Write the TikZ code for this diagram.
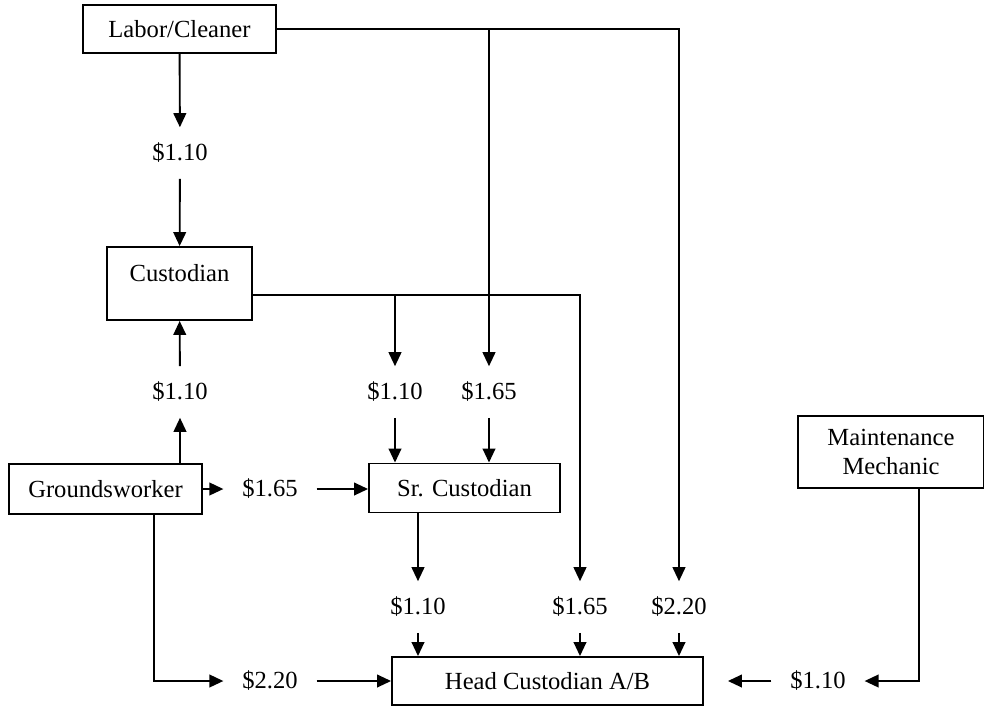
\documentclass[tikz,border=0pt]{standalone}
\usepackage{fontspec}
\setmainfont{Liberation Serif}
\usetikzlibrary{arrows.meta,positioning}

\tikzset{
  jobbox/.style={draw, rectangle, inner sep=0pt, align=center},
  cost/.style={inner xsep=0.27cm, inner ysep=0.225cm},
  flow/.style={line width=0.8pt, -{Triangle[length=0.21cm,width=0.19cm]}}
}

\begin{document}
\begin{tikzpicture}[x=0.015cm, y=-0.015cm, line width=0.8pt,
    font=\fontsize{10.5}{12}\selectfont]
				\useasboundingbox (0,0) rectangle (984,706);

				% Draw job boxes
				\node[jobbox, minimum width=2.895cm, minimum height=0.72cm] (labor) at (179.5,29) {Labor/Cleaner};
				\node[jobbox, minimum width=2.175cm, text height=0.51cm, text depth=0.585cm] (cust) at (179.5,283.5) {Custodian};
				\node[jobbox, minimum width=2.895cm, minimum height=0.75cm] (ground) at (105.5,489) {Groundsworker};
				\node[jobbox, minimum width=2.865cm, minimum height=0.735cm] (sr) at (464.5,488) {Sr. Custodian};
				\node[jobbox, minimum width=4.665cm, minimum height=0.72cm] (head) at (547.5,681) {Head Custodian A/B};
				\node[jobbox, minimum width=2.79cm, minimum height=1.08cm] (maint) at (891,452) {Maintenance\\Mechanic};

				% Draw pay steps
				\node[cost] (lc) at (180,153) {\$1.10};
				\node[cost] (gc) at (180,392) {\$1.10};
				\node[cost] (cs) at (395,392) {\$1.10};
				\node[cost] (ls) at (489,392) {\$1.65};
				\node[cost] (gs) at (270,489) {\$1.65};
				\node[cost] (sh) at (418,607) {\$1.10};
				\node[cost] (ch) at (580,607) {\$1.65};
				\node[cost] (lh) at (679,607) {\$2.20};
				\node[cost] (gh) at (270,681) {\$2.20};
				\node[cost] (mh) at (818,681) {\$1.10};

				% Draw connections
				\coordinate (cj) at ([yshift=-0.17cm]cust.east);
				\draw[flow] (labor) -- (lc);
				\draw[flow] (lc) -- (cust);
				\draw[flow] (ground.north -| gc) -- (gc);
				\draw[flow] (gc) -- (cust);
				\draw[flow] (labor.east -| ls) -- (ls);
				\draw[flow] (labor.east) -| (lh);
				\draw[flow] (cj -| cs) -- (cs);
				\draw[flow] (cj) -| (ch);
				\draw[flow] (cs) -- (sr.north -| cs);
				\draw[flow] (ls) -- (sr.north -| ls);
				\draw[flow] (ground) -- (gs);
				\draw[flow] (gs) -- (sr.west |- gs);
				\draw[flow] (sr.south -| sh) -- (sh);
				\draw[flow] (sh) -- (head.north -| sh);
				\draw[flow] (ch) -- (head.north -| ch);
				\draw[flow] (lh) -- (head.north -| lh);
				\draw[flow] ([xshift=0.73cm]ground.south) |- (gh);
				\draw[flow] (gh) -- (head.west |- gh);
				\draw[flow] ([xshift=0.42cm]maint.south) |- (mh);
				\draw[flow, shorten >=0.36cm] (mh) -- (head.east |- mh);
			\end{tikzpicture}
\end{document}
